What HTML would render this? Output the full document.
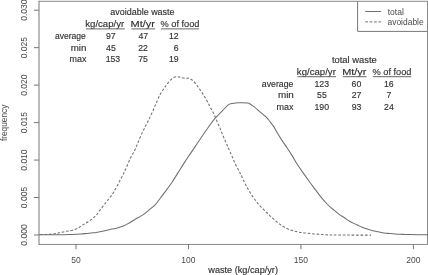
<!DOCTYPE html>
<html><head><meta charset="utf-8">
<style>
html,body{margin:0;padding:0;background:#fff;width:428px;height:275px;overflow:hidden}
svg{display:block;will-change:transform}
text{font-family:"Liberation Sans",sans-serif;font-kerning:none}
</style></head><body>
<svg width="428" height="275" viewBox="0 0 428 275">
<g>
<path d="M39,1.3 H427" fill="none" stroke="#888" stroke-width="1"/>
<path d="M427.5,0.8 V244.9" fill="none" stroke="#8a8a8a" stroke-width="1"/>
<path d="M39,244.45 H427" fill="none" stroke="#8a8a8a" stroke-width="1"/>
<path d="M39,0.8 V244.9" fill="none" stroke="#777" stroke-width="1"/>
<g stroke="#777" stroke-width="1"><line x1="34" y1="235.00" x2="39" y2="235.00"/><line x1="34" y1="197.53" x2="39" y2="197.53"/><line x1="34" y1="160.07" x2="39" y2="160.07"/><line x1="34" y1="122.60" x2="39" y2="122.60"/><line x1="34" y1="85.13" x2="39" y2="85.13"/><line x1="34" y1="47.67" x2="39" y2="47.67"/><line x1="34" y1="10.20" x2="39" y2="10.20"/><line x1="76.00" y1="244" x2="76.00" y2="249.2"/><line x1="188.47" y1="244" x2="188.47" y2="249.2"/><line x1="300.93" y1="244" x2="300.93" y2="249.2"/><line x1="413.40" y1="244" x2="413.40" y2="249.2"/></g>
<g transform="translate(27.1,235.00) rotate(-90)"><text x="-10.64" y="0.00" font-size="9.00" fill="#4a4a4a" textLength="21.27" lengthAdjust="spacingAndGlyphs">0.000</text></g>
<g transform="translate(27.1,197.53) rotate(-90)"><text x="-10.62" y="0.00" font-size="9.00" fill="#4a4a4a" textLength="21.27" lengthAdjust="spacingAndGlyphs">0.005</text></g>
<g transform="translate(27.1,160.07) rotate(-90)"><text x="-10.64" y="0.00" font-size="9.00" fill="#4a4a4a" textLength="21.27" lengthAdjust="spacingAndGlyphs">0.010</text></g>
<g transform="translate(27.1,122.60) rotate(-90)"><text x="-10.62" y="0.00" font-size="9.00" fill="#4a4a4a" textLength="21.27" lengthAdjust="spacingAndGlyphs">0.015</text></g>
<g transform="translate(27.1,85.13) rotate(-90)"><text x="-10.64" y="0.00" font-size="9.00" fill="#4a4a4a" textLength="21.27" lengthAdjust="spacingAndGlyphs">0.020</text></g>
<g transform="translate(27.1,47.67) rotate(-90)"><text x="-10.62" y="0.00" font-size="9.00" fill="#4a4a4a" textLength="21.27" lengthAdjust="spacingAndGlyphs">0.025</text></g>
<g transform="translate(27.1,10.20) rotate(-90)"><text x="-10.64" y="0.00" font-size="9.00" fill="#4a4a4a" textLength="21.27" lengthAdjust="spacingAndGlyphs">0.030</text></g>
<g transform="translate(7.0,122.8) rotate(-90)"><text x="-18.28" y="0.00" font-size="8.80" fill="#4a4a4a" textLength="36.45" lengthAdjust="spacingAndGlyphs">frequency</text></g>
<text x="71.27" y="262.80" font-size="9.00" fill="#4a4a4a" textLength="9.45" lengthAdjust="spacingAndGlyphs">50</text>
<text x="181.22" y="262.80" font-size="9.00" fill="#4a4a4a" textLength="14.18" lengthAdjust="spacingAndGlyphs">100</text>
<text x="293.69" y="262.80" font-size="9.00" fill="#4a4a4a" textLength="14.18" lengthAdjust="spacingAndGlyphs">150</text>
<text x="406.26" y="262.80" font-size="9.00" fill="#4a4a4a" textLength="14.18" lengthAdjust="spacingAndGlyphs">200</text>
<text x="208.31" y="272.60" font-size="9.30" fill="#303030" textLength="69.65" lengthAdjust="spacingAndGlyphs" stroke="#303030" stroke-width="0.15">waste (kg/cap/yr)</text>
<path d="M357.6,1.5 V31.4 H427" fill="none" stroke="#777" stroke-width="1"/>
<line x1="365.2" y1="11.5" x2="381.2" y2="11.5" stroke="#6e6e6e" stroke-width="1"/>
<line x1="365.2" y1="21.9" x2="381.2" y2="21.9" stroke="#6e6e6e" stroke-width="1" stroke-dasharray="2.8,1.6"/>
<text x="387.67" y="14.60" font-size="8.50" fill="#4a4a4a" textLength="16.20" lengthAdjust="spacingAndGlyphs">total</text>
<text x="387.44" y="24.80" font-size="8.50" fill="#4a4a4a" textLength="36.24" lengthAdjust="spacingAndGlyphs">avoidable</text>
<text x="110.22" y="15.00" font-size="9.50" fill="#303030" textLength="64.38" lengthAdjust="spacingAndGlyphs" stroke="#303030" stroke-width="0.15">avoidable waste</text>
<text x="85.25" y="26.70" font-size="9.50" fill="#303030" textLength="38.91" lengthAdjust="spacingAndGlyphs" stroke="#303030" stroke-width="0.15">kg/cap/yr</text>
<text x="130.60" y="26.70" font-size="9.50" fill="#303030" textLength="24.38" lengthAdjust="spacingAndGlyphs" stroke="#303030" stroke-width="0.15">Mt/yr</text>
<text x="160.57" y="26.70" font-size="9.50" fill="#303030" textLength="38.92" lengthAdjust="spacingAndGlyphs" stroke="#303030" stroke-width="0.15">% of food</text>
<text x="54.94" y="38.90" font-size="9.50" fill="#303030" textLength="30.84" lengthAdjust="spacingAndGlyphs" stroke="#303030" stroke-width="0.15">average</text>
<text x="70.75" y="50.60" font-size="9.50" fill="#303030" textLength="15.68" lengthAdjust="spacingAndGlyphs" stroke="#303030" stroke-width="0.15">min</text>
<text x="69.51" y="62.10" font-size="9.50" fill="#303030" textLength="16.89" lengthAdjust="spacingAndGlyphs" stroke="#303030" stroke-width="0.15">max</text>
<text x="105.89" y="38.90" font-size="9.80" fill="#303030" textLength="9.72" lengthAdjust="spacingAndGlyphs" stroke="#303030" stroke-width="0.15">97</text>
<text x="138.50" y="38.90" font-size="9.80" fill="#303030" textLength="9.72" lengthAdjust="spacingAndGlyphs" stroke="#303030" stroke-width="0.15">47</text>
<text x="168.92" y="38.90" font-size="9.80" fill="#303030" textLength="9.72" lengthAdjust="spacingAndGlyphs" stroke="#303030" stroke-width="0.15">12</text>
<text x="106.10" y="50.60" font-size="9.80" fill="#303030" textLength="9.72" lengthAdjust="spacingAndGlyphs" stroke="#303030" stroke-width="0.15">45</text>
<text x="138.26" y="50.60" font-size="9.80" fill="#303030" textLength="9.72" lengthAdjust="spacingAndGlyphs" stroke="#303030" stroke-width="0.15">22</text>
<text x="173.72" y="50.60" font-size="9.80" fill="#303030" textLength="4.86" lengthAdjust="spacingAndGlyphs" stroke="#303030" stroke-width="0.15">6</text>
<text x="105.63" y="62.10" font-size="9.80" fill="#303030" textLength="14.58" lengthAdjust="spacingAndGlyphs" stroke="#303030" stroke-width="0.15">153</text>
<text x="138.25" y="62.10" font-size="9.80" fill="#303030" textLength="9.72" lengthAdjust="spacingAndGlyphs" stroke="#303030" stroke-width="0.15">75</text>
<text x="168.89" y="62.10" font-size="9.80" fill="#303030" textLength="9.72" lengthAdjust="spacingAndGlyphs" stroke="#303030" stroke-width="0.15">19</text>
<g stroke="#666" stroke-width="1"><line x1="85.9" y1="28.9" x2="124.7" y2="28.9"/><line x1="131.5" y1="28.9" x2="155" y2="28.9"/><line x1="160.9" y1="28.9" x2="199.1" y2="28.9"/></g>
<text x="331.96" y="62.90" font-size="9.50" fill="#303030" textLength="44.76" lengthAdjust="spacingAndGlyphs" stroke="#303030" stroke-width="0.15">total waste</text>
<text x="296.85" y="74.60" font-size="9.50" fill="#303030" textLength="39.01" lengthAdjust="spacingAndGlyphs" stroke="#303030" stroke-width="0.15">kg/cap/yr</text>
<text x="342.20" y="74.60" font-size="9.50" fill="#303030" textLength="24.28" lengthAdjust="spacingAndGlyphs" stroke="#303030" stroke-width="0.15">Mt/yr</text>
<text x="372.57" y="74.60" font-size="9.50" fill="#303030" textLength="38.92" lengthAdjust="spacingAndGlyphs" stroke="#303030" stroke-width="0.15">% of food</text>
<text x="261.83" y="86.70" font-size="9.50" fill="#303030" textLength="31.56" lengthAdjust="spacingAndGlyphs" stroke="#303030" stroke-width="0.15">average</text>
<text x="277.94" y="98.30" font-size="9.50" fill="#303030" textLength="15.90" lengthAdjust="spacingAndGlyphs" stroke="#303030" stroke-width="0.15">min</text>
<text x="276.40" y="109.70" font-size="9.50" fill="#303030" textLength="16.99" lengthAdjust="spacingAndGlyphs" stroke="#303030" stroke-width="0.15">max</text>
<text x="314.47" y="86.70" font-size="9.80" fill="#303030" textLength="14.58" lengthAdjust="spacingAndGlyphs" stroke="#303030" stroke-width="0.15">123</text>
<text x="351.59" y="86.70" font-size="9.80" fill="#303030" textLength="9.72" lengthAdjust="spacingAndGlyphs" stroke="#303030" stroke-width="0.15">60</text>
<text x="384.00" y="86.70" font-size="9.80" fill="#303030" textLength="9.72" lengthAdjust="spacingAndGlyphs" stroke="#303030" stroke-width="0.15">16</text>
<text x="317.05" y="98.30" font-size="9.80" fill="#303030" textLength="9.72" lengthAdjust="spacingAndGlyphs" stroke="#303030" stroke-width="0.15">55</text>
<text x="351.64" y="98.30" font-size="9.80" fill="#303030" textLength="9.72" lengthAdjust="spacingAndGlyphs" stroke="#303030" stroke-width="0.15">27</text>
<text x="386.57" y="98.30" font-size="9.80" fill="#303030" textLength="4.86" lengthAdjust="spacingAndGlyphs" stroke="#303030" stroke-width="0.15">7</text>
<text x="314.45" y="109.70" font-size="9.80" fill="#303030" textLength="14.58" lengthAdjust="spacingAndGlyphs" stroke="#303030" stroke-width="0.15">190</text>
<text x="351.63" y="109.70" font-size="9.80" fill="#303030" textLength="9.72" lengthAdjust="spacingAndGlyphs" stroke="#303030" stroke-width="0.15">93</text>
<text x="384.05" y="109.70" font-size="9.80" fill="#303030" textLength="9.72" lengthAdjust="spacingAndGlyphs" stroke="#303030" stroke-width="0.15">24</text>
<g stroke="#666" stroke-width="1"><line x1="297.5" y1="76.7" x2="336" y2="76.7"/><line x1="342.7" y1="76.7" x2="366.6" y2="76.7"/><line x1="372.8" y1="76.7" x2="411.1" y2="76.7"/></g>
<path fill="none" stroke="#6e6e6e" stroke-width="1.05" d="M39.00,234.80 C40.83,234.80 46.50,234.80 50.00,234.80 C53.50,234.80 56.83,234.83 60.00,234.80 C63.17,234.77 66.50,234.68 69.00,234.60 C71.50,234.52 73.00,234.40 75.00,234.30 C77.00,234.20 79.00,234.15 81.00,234.00 C83.00,233.85 85.00,233.60 87.00,233.40 C89.00,233.20 91.50,232.95 93.00,232.80 C94.50,232.65 94.42,232.77 96.00,232.50 C97.58,232.23 100.32,231.67 102.50,231.20 C104.68,230.73 106.92,230.17 109.10,229.70 C111.28,229.23 113.78,228.83 115.60,228.40 C117.42,227.97 118.60,227.53 120.00,227.10 C121.40,226.67 122.67,226.38 124.00,225.80 C125.33,225.22 126.67,224.37 128.00,223.60 C129.33,222.83 130.67,222.00 132.00,221.20 C133.33,220.40 134.67,219.57 136.00,218.80 C137.33,218.03 138.67,217.38 140.00,216.60 C141.33,215.82 142.37,215.30 144.00,214.10 C145.63,212.90 147.87,211.03 149.80,209.40 C151.73,207.77 153.80,206.23 155.60,204.30 C157.40,202.37 158.80,200.17 160.60,197.80 C162.40,195.43 164.38,192.87 166.40,190.10 C168.42,187.33 170.70,184.20 172.70,181.20 C174.70,178.20 176.48,175.15 178.40,172.10 C180.32,169.05 182.20,165.98 184.20,162.90 C186.20,159.82 188.40,156.58 190.40,153.60 C192.40,150.62 194.30,147.82 196.20,145.00 C198.10,142.18 199.75,139.70 201.80,136.70 C203.85,133.70 206.30,130.05 208.50,127.00 C210.70,123.95 212.67,121.13 215.00,118.40 C217.33,115.67 220.17,112.93 222.50,110.60 C224.83,108.27 227.15,105.62 229.00,104.40 C230.85,103.18 232.10,103.57 233.60,103.30 C235.10,103.03 235.67,102.87 238.00,102.80 C240.33,102.73 245.67,102.73 247.60,102.90 C249.53,103.07 248.87,103.40 249.60,103.80 C250.33,104.20 251.27,104.82 252.00,105.30 C252.73,105.78 252.70,105.65 254.00,106.70 C255.30,107.75 257.87,109.97 259.80,111.60 C261.73,113.23 264.18,115.18 265.60,116.50 C267.02,117.82 267.42,118.43 268.30,119.50 C269.18,120.57 269.98,121.72 270.90,122.90 C271.82,124.08 272.82,125.08 273.80,126.60 C274.78,128.12 275.47,129.75 276.80,132.00 C278.13,134.25 280.07,137.43 281.80,140.10 C283.53,142.77 285.43,145.33 287.20,148.00 C288.97,150.67 290.75,153.43 292.40,156.10 C294.05,158.77 295.37,161.28 297.10,164.00 C298.83,166.72 300.95,169.73 302.80,172.40 C304.65,175.07 306.37,177.47 308.20,180.00 C310.03,182.53 311.83,184.97 313.80,187.60 C315.77,190.23 317.70,192.98 320.00,195.80 C322.30,198.62 325.27,202.10 327.60,204.50 C329.93,206.90 332.07,208.57 334.00,210.20 C335.93,211.83 337.45,213.03 339.20,214.30 C340.95,215.57 342.75,216.63 344.50,217.80 C346.25,218.97 347.97,220.28 349.70,221.30 C351.43,222.32 353.52,223.23 354.90,223.90 C356.28,224.57 356.88,224.78 358.00,225.30 C359.12,225.82 360.07,226.38 361.60,227.00 C363.13,227.62 365.33,228.38 367.20,229.00 C369.07,229.62 370.93,230.23 372.80,230.70 C374.67,231.17 376.53,231.43 378.40,231.80 C380.27,232.17 382.13,232.62 384.00,232.90 C385.87,233.18 387.73,233.32 389.60,233.50 C391.47,233.68 393.33,233.87 395.20,234.00 C397.07,234.13 398.33,234.20 400.80,234.30 C403.27,234.40 405.47,234.52 410.00,234.60 C414.53,234.68 425.00,234.77 428.00,234.80"/>
<path fill="none" stroke="#6e6e6e" stroke-width="1.05" stroke-dasharray="2.6,1.8" d="M40.00,234.50 C41.00,234.48 44.00,234.47 46.00,234.40 C48.00,234.33 50.33,234.25 52.00,234.10 C53.67,233.95 54.67,233.75 56.00,233.50 C57.33,233.25 58.57,232.92 60.00,232.60 C61.43,232.28 63.17,231.87 64.60,231.60 C66.03,231.33 67.25,231.23 68.60,231.00 C69.95,230.77 71.45,230.53 72.70,230.20 C73.95,229.87 75.00,229.48 76.10,229.00 C77.20,228.52 78.32,227.92 79.30,227.30 C80.28,226.68 81.03,225.92 82.00,225.30 C82.97,224.68 84.03,224.23 85.10,223.60 C86.17,222.97 87.32,222.20 88.40,221.50 C89.48,220.80 90.63,220.13 91.60,219.40 C92.57,218.67 93.28,217.97 94.20,217.10 C95.12,216.23 96.22,215.25 97.10,214.20 C97.98,213.15 98.48,212.17 99.50,210.80 C100.52,209.43 102.12,207.40 103.20,206.00 C104.28,204.60 105.13,203.48 106.00,202.40 C106.87,201.32 107.60,200.50 108.40,199.50 C109.20,198.50 110.07,197.38 110.80,196.40 C111.53,195.42 112.17,194.62 112.80,193.60 C113.43,192.58 113.78,191.75 114.60,190.30 C115.42,188.85 116.72,186.72 117.70,184.90 C118.68,183.08 119.65,181.05 120.50,179.40 C121.35,177.75 122.10,176.37 122.80,175.00 C123.50,173.63 124.07,172.53 124.70,171.20 C125.33,169.87 125.87,168.70 126.60,167.00 C127.33,165.30 128.27,162.87 129.10,161.00 C129.93,159.13 130.83,157.23 131.60,155.80 C132.37,154.37 133.10,153.50 133.70,152.40 C134.30,151.30 134.62,150.50 135.20,149.20 C135.78,147.90 136.57,146.13 137.20,144.60 C137.83,143.07 138.25,141.80 139.00,140.00 C139.75,138.20 140.87,135.60 141.70,133.80 C142.53,132.00 143.38,130.48 144.00,129.20 C144.62,127.92 144.85,127.17 145.40,126.10 C145.95,125.03 146.75,123.85 147.30,122.80 C147.85,121.75 148.18,120.87 148.70,119.80 C149.22,118.73 149.70,117.87 150.40,116.40 C151.10,114.93 152.10,112.83 152.90,111.00 C153.70,109.17 154.42,107.23 155.20,105.40 C155.98,103.57 156.82,101.75 157.60,100.00 C158.38,98.25 159.13,96.37 159.90,94.90 C160.67,93.43 161.43,92.38 162.20,91.20 C162.97,90.02 163.95,88.60 164.50,87.80 C165.05,87.00 164.93,87.18 165.50,86.40 C166.07,85.62 166.95,84.25 167.90,83.10 C168.85,81.95 170.17,80.47 171.20,79.50 C172.23,78.53 172.95,77.77 174.10,77.30 C175.25,76.83 176.85,76.63 178.10,76.70 C179.35,76.77 180.35,77.43 181.60,77.70 C182.85,77.97 184.40,78.22 185.60,78.30 C186.80,78.38 187.62,77.87 188.80,78.20 C189.98,78.53 191.62,79.45 192.70,80.30 C193.78,81.15 194.35,82.13 195.30,83.30 C196.25,84.47 197.48,86.03 198.40,87.30 C199.32,88.57 199.98,89.68 200.80,90.90 C201.62,92.12 202.48,93.33 203.30,94.60 C204.12,95.87 204.92,97.13 205.70,98.50 C206.48,99.87 207.22,101.32 208.00,102.80 C208.78,104.28 209.62,105.92 210.40,107.40 C211.18,108.88 212.00,110.37 212.70,111.70 C213.40,113.03 213.80,113.58 214.60,115.40 C215.40,117.22 216.67,120.62 217.50,122.60 C218.33,124.58 218.92,125.70 219.60,127.30 C220.28,128.90 220.93,130.57 221.60,132.20 C222.27,133.83 222.92,135.48 223.60,137.10 C224.28,138.72 225.02,140.35 225.70,141.90 C226.38,143.45 227.22,145.28 227.70,146.40 C228.18,147.52 228.03,147.32 228.60,148.60 C229.17,149.88 230.35,152.40 231.10,154.10 C231.85,155.80 232.43,157.22 233.10,158.80 C233.77,160.38 234.33,161.97 235.10,163.60 C235.87,165.23 236.93,167.13 237.70,168.60 C238.47,170.07 239.15,171.37 239.70,172.40 C240.25,173.43 240.43,173.62 241.00,174.80 C241.57,175.98 242.33,177.87 243.10,179.50 C243.87,181.13 244.77,182.98 245.60,184.60 C246.43,186.22 247.25,187.72 248.10,189.20 C248.95,190.68 249.80,192.07 250.70,193.50 C251.60,194.93 252.57,196.50 253.50,197.80 C254.43,199.10 255.45,200.20 256.30,201.30 C257.15,202.40 257.73,203.38 258.60,204.40 C259.47,205.42 260.55,206.43 261.50,207.40 C262.45,208.37 263.37,209.27 264.30,210.20 C265.23,211.13 266.15,212.07 267.10,213.00 C268.05,213.93 269.05,214.92 270.00,215.80 C270.95,216.68 271.87,217.47 272.80,218.30 C273.73,219.13 274.68,220.02 275.60,220.80 C276.52,221.58 277.40,222.30 278.30,223.00 C279.20,223.70 279.78,224.18 281.00,225.00 C282.22,225.82 284.07,227.08 285.60,227.90 C287.13,228.72 288.67,229.35 290.20,229.90 C291.73,230.45 293.28,230.82 294.80,231.20 C296.32,231.58 297.72,231.92 299.30,232.20 C300.88,232.48 301.90,232.62 304.30,232.90 C306.70,233.18 310.58,233.62 313.70,233.90 C316.82,234.18 319.95,234.42 323.00,234.60 C326.05,234.78 327.50,234.92 332.00,235.00 C336.50,235.08 343.50,235.08 350.00,235.10 C356.50,235.12 367.50,235.10 371.00,235.10"/>
</g>
</svg>
</body></html>
